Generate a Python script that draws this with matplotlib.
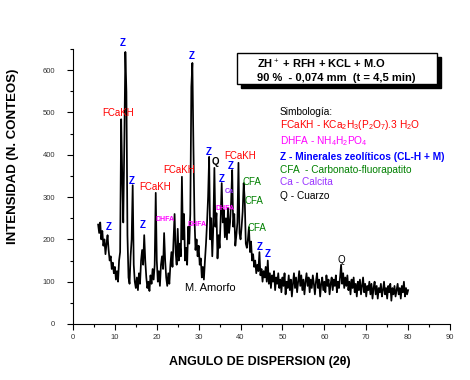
import numpy as np
import matplotlib
matplotlib.use("Agg")
import matplotlib.pyplot as plt
from matplotlib.patches import Rectangle

plt.rcParams['font.family'] = ['Liberation Sans', 'DejaVu Sans']
plt.rcParams['mathtext.fontset'] = 'custom'
plt.rcParams['mathtext.rm'] = 'Liberation Sans'
plt.rcParams['mathtext.it'] = 'Liberation Sans:italic'
plt.rcParams['mathtext.bf'] = 'Liberation Sans:bold'

# diffractogram, 2-theta from 6.0 to 80.0 every 0.25
angle_start = 6.0
angle_step = 0.25
counts = [
    235, 215, 240, 200, 220, 185, 200, 165,   # 6
    190, 210, 175, 150, 160, 130, 145, 120,   # 8
    135, 105, 125, 100, 150, 170, 484, 352,   # 10
    240, 428, 643, 548, 210, 110, 95, 160,    # 12
    200, 328, 140, 100, 85, 110, 80, 120,     # 14
    95, 150, 175, 140, 210, 150, 110, 85,     # 16
    100, 78, 115, 95, 130, 105, 140, 310,     # 18
    150, 100, 125, 90, 140, 160, 130, 215,    # 20
    150, 110, 90, 120, 95, 140, 170, 135,     # 22
    200, 260, 170, 140, 225, 150, 190, 160,   # 24
    348, 200, 260, 150, 180, 140, 230, 190,   # 26
    260, 560, 617, 420, 250, 175, 200, 160,   # 28
    185, 140, 155, 110, 135, 105, 150, 190,   # 30
    240, 300, 395, 200, 250, 160, 230, 369,   # 32
    230, 262, 155, 210, 180, 250, 333, 240,   # 34
    270, 205, 250, 200, 275, 215, 240, 290,   # 36
    364, 230, 260, 185, 210, 240, 381, 215,   # 38
    200, 230, 265, 333, 293, 190, 180, 200,   # 40
    229, 170, 195, 150, 165, 135, 150, 120,   # 42
    140, 125, 170, 115, 130, 100, 125, 110,   # 44
    135, 100, 150, 95, 120, 85, 115, 100,     # 46
    125, 80, 110, 95, 120, 85, 105, 75,       # 48
    110, 90, 120, 70, 100, 85, 115, 80,       # 50
    105, 65, 95, 120, 85, 110, 75, 100,       # 52
    125, 90, 115, 80, 105, 70, 100, 120,      # 54
    90, 110, 75, 105, 85, 115, 95, 70,        # 56
    100, 120, 85, 105, 65, 95, 110, 80,       # 58
    100, 75, 115, 90, 105, 70, 95, 110,       # 60
    80, 105, 90, 115, 75, 100, 85, 110,       # 62
    140, 95, 120, 85, 110, 90, 115, 80,       # 64
    100, 70, 105, 85, 110, 75, 95, 65,        # 66
    100, 80, 105, 70, 90, 110, 75, 95,        # 68
    65, 90, 80, 100, 70, 95, 60, 85,          # 70
    100, 70, 90, 60, 85, 75, 95, 65,          # 72
    80, 100, 70, 85, 60, 90, 75, 95,          # 74
    55, 85, 70, 90, 65, 80, 95, 70,           # 76
    85, 60, 90, 75, 100, 65, 85, 70,          # 78
    80,
]
angles = angle_start + angle_step * np.arange(len(counts))

# peak labels: text, 2-theta, counts, colour, size, bold
peak_labels = [
    ("Z", 11.9, 664, "#0000FF", 7, True),
    ("FCaKH", 10.7, 498, "#FF0000", 7, False),
    ("Z", 14.1, 338, "#0000FF", 7, True),
    ("FCaKH", 19.7, 324, "#FF0000", 7, False),
    ("FCaKH", 25.3, 364, "#FF0000", 7, False),
    ("Z", 28.4, 633, "#0000FF", 7, True),
    ("Z", 32.5, 406, "#0000FF", 7, True),
    ("Q", 34.1, 383, "#000000", 7, True),
    ("FCaKH", 39.9, 397, "#FF0000", 7, False),
    ("Z", 37.7, 373, "#0000FF", 7, True),
    ("Z", 35.6, 343, "#0000FF", 7, True),
    ("Ca", 37.2, 314, "#9933FF", 5, True),
    ("CFA", 42.7, 335, "#008000", 7, False),
    ("CFA", 43.2, 291, "#008000", 7, False),
    ("CFA", 43.9, 227, "#008000", 7, False),
    ("Z", 44.6, 182, "#0000FF", 7, True),
    ("Z", 46.5, 165, "#0000FF", 7, True),
    ("Z", 16.7, 234, "#0000FF", 7, True),
    ("Z", 8.6, 229, "#0000FF", 7, True),
    ("DHFA", 22.0, 248, "#FF00FF", 5, True),
    ("DHFA", 29.6, 234, "#FF00FF", 5, True),
    ("DHFA", 36.3, 272, "#FF00FF", 5, True),
    ("Q", 64.0, 151, "#000000", 7, False),
]

legend_lines = [
    ("Simbolog\u00eda:", "#000000"),
    ("FCaKH - KCa$_2$H$_3$(P$_2$O$_7$).3 H$_2$O", "#FF0000"),
    ("DHFA - NH$_4$H$_2$PO$_4$", "#FF00FF"),
    ("Z - Minerales zeol\u00edticos (CL-H + M)", "#0000FF"),
    ("CFA  - Carbonato-fluorapatito", "#008000"),
    ("Ca - Calcita", "#9933FF"),
    ("Q - Cuarzo", "#000000"),
]
legend_y = [502, 471, 433, 395, 364, 335, 302]

W, H = 470, 380
fig = plt.figure(figsize=(W / 100, H / 100), dpi=100)
ax = fig.add_axes([73 / W, 1 - 324 / H, 377 / W, 275 / H])

ax.plot(angles, counts, color="black", linewidth=1.25)

ax.set_xlim(0, 90)
ax.set_ylim(0, 650)
ax.set_xticks(np.arange(0, 91, 10))
ax.set_xticks(np.arange(0, 91, 5), minor=True)
ax.set_yticks(np.arange(0, 601, 100))
ax.set_yticks(np.arange(0, 651, 50), minor=True)
ax.spines['top'].set_visible(False)
ax.spines['right'].set_visible(False)
ax.tick_params(which='major', direction='out', length=4, width=0.8,
               labelsize=5.5, labelcolor='#333333')
ax.tick_params(which='minor', direction='out', length=2.5, width=0.8)
ax.tick_params(axis='y', which='major', pad=9)

fig.text(260 / W, 1 - 362 / H, "ANGULO DE DISPERSION (2\u03b8)",
         ha='center', va='center', fontsize=9, fontweight='bold')
fig.text(13 / W, 1 - 156 / H, "INTENSIDAD (N. CONTEOS)", rotation=90,
         ha='center', va='center', fontsize=9.5, fontweight='bold')

for txt, x, y, col, size, bold in peak_labels:
    ax.text(x, y, txt, color=col, fontsize=size, ha='center', va='center',
            fontweight='bold' if bold else 'normal', clip_on=False)

ax.text(32.7, 85, "M. Amorfo", fontsize=8, ha='center', va='center')

for (txt, col), y in zip(legend_lines, legend_y):
    ax.text(49.4, y, txt, color=col, fontsize=7.3, ha='left', va='center',
            fontweight='bold' if col == "#0000FF" else 'normal')

# boxed sample description with drop shadow
fig.add_artist(Rectangle((241 / W, 1 - 88 / H), 200 / W, 31 / H,
                         transform=fig.transFigure, facecolor='black',
                         edgecolor='black'))
fig.add_artist(Rectangle((237 / W, 1 - 84 / H), 200 / W, 31 / H,
                         transform=fig.transFigure, facecolor='white',
                         edgecolor='black', linewidth=1))
fig.text(257 / W, 1 - 64 / H, "ZH$^+$ + RFH + KCL + M.O",
         fontsize=8, fontweight='bold', va='center')
fig.text(257 / W, 1 - 78 / H, "90 %  - 0,074 mm  (t = 4,5 min)",
         fontsize=8, fontweight='bold', va='center')

fig.savefig("out.png", dpi=100)
